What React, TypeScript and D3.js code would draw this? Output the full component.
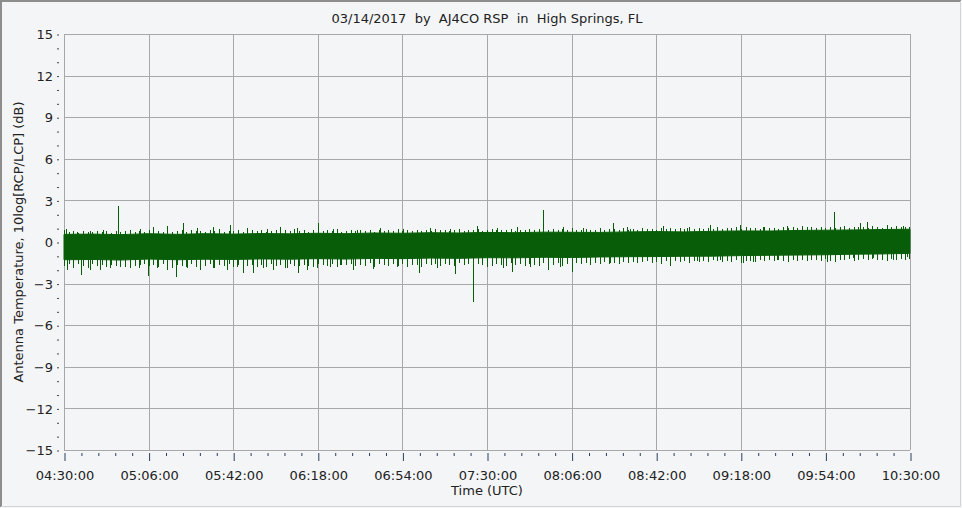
import React, { useEffect, useRef } from 'react';
import * as d3 from 'd3';

// x tick labels (UTC)
const timeTicks = [
  '04:30:00', '05:06:00', '05:42:00', '06:18:00', '06:54:00', '07:30:00',
  '08:06:00', '08:42:00', '09:18:00', '09:54:00', '10:30:00',
];
const dbTicks = [15, 12, 9, 6, 3, 0, -3, -6, -9, -12, -15];

// dense noise band, minutes after 04:30 UTC, dB
const bandMinutes = [
  0, 12, 24, 36, 48, 60, 72, 84, 96, 108, 120, 132, 144, 156, 168, 180,
  192, 204, 216, 228, 240, 252, 264, 276, 288, 300, 312, 324, 336, 348, 360,
];
const bandUpper = [
  0.55, 0.57, 0.53, 0.60, 0.55, 0.60, 0.57, 0.61, 0.59, 0.63, 0.60, 0.65, 0.63, 0.67, 0.65, 0.69,
  0.67, 0.71, 0.70, 0.69, 0.73, 0.75, 0.73, 0.77, 0.80, 0.79, 0.83, 0.85, 0.87, 0.90, 0.92,
];
const bandLower = [
  -1.28, -1.26, -1.30, -1.23, -1.28, -1.24, -1.26, -1.22, -1.24, -1.20, -1.23, -1.18, -1.20, -1.16, -1.18, -1.13,
  -1.14, -1.10, -1.12, -1.08, -1.06, -1.05, -1.03, -1.02, -0.98, -0.96, -0.94, -0.92, -0.88, -0.86, -0.82,
];

// fringe of the band, one reading every 2 minutes (0..360)
const fringeUpper = [
  0.85, 0.70, 0.78, 0.66, 0.80, 0.74, 0.69, 0.82, 0.71, 0.77,
  0.68, 0.80, 0.72, 0.76, 0.84, 0.70, 0.79, 0.73, 0.86, 0.75,
  0.81, 0.69, 0.90, 0.74, 0.78, 0.83, 0.71, 0.88, 0.76, 0.80,
  0.72, 0.85, 0.79, 0.93, 0.74, 0.82, 0.77, 0.87, 0.73, 0.81,
  0.84, 0.76, 0.89, 0.72, 0.80, 0.86, 0.75, 0.83, 0.78, 0.91,
  0.77, 0.85, 0.73, 0.88, 0.80, 0.76, 0.84, 0.79, 0.92, 0.74,
  0.82, 0.87, 0.76, 0.90, 0.79, 0.84, 0.75, 0.88, 0.81, 0.86,
  0.78, 0.93, 0.80, 0.85, 0.77, 0.89, 0.82, 0.87, 0.79, 0.95,
  0.83, 0.88, 0.80, 0.86, 0.92, 0.81, 0.89, 0.84, 0.97, 0.82,
  0.87, 0.91, 0.83, 0.89, 0.85, 0.94, 0.81, 0.90, 0.86, 0.92,
  0.84, 0.96, 0.88, 0.85, 0.93, 0.87, 0.91, 0.83, 0.98, 0.89,
  0.86, 0.94, 0.90, 0.88, 0.99, 0.85, 0.92, 0.96, 0.87, 1.01,
  0.90, 0.95, 0.88, 1.02, 0.93, 0.97, 0.89, 1.04, 0.92, 0.98,
  0.94, 1.00, 0.91, 1.06, 0.96, 0.99, 0.93, 1.03, 0.97, 1.08,
  0.95, 1.01, 0.98, 1.05, 0.94, 1.10, 0.99, 1.03, 0.96, 1.07,
  1.00, 1.04, 0.97, 1.09, 1.02, 1.06, 0.99, 1.12, 1.03, 1.05,
  1.01, 1.08, 1.04, 1.11, 1.00, 1.07, 1.13, 1.03, 1.09, 1.06,
  1.10, 1.04, 1.14, 1.07, 1.02, 1.12, 1.08, 1.15, 1.05, 1.11,
  1.09,
];
const fringeLower = [
  -1.75, -1.62, -1.80, -1.58, -1.70, -1.85, -1.60, -1.72, -1.66, -1.78,
  -1.63, -1.74, -1.59, -1.82, -1.68, -1.71, -1.87, -1.61, -1.76, -1.65,
  -1.79, -1.60, -1.73, -1.84, -1.64, -1.70, -1.77, -1.58, -1.81, -1.67,
  -1.72, -1.62, -1.86, -1.69, -1.75, -1.61, -1.78, -1.66, -1.83, -1.70,
  -1.64, -1.77, -1.68, -1.80, -1.59, -1.73, -1.66, -1.84, -1.62, -1.71,
  -1.76, -1.63, -1.70, -1.81, -1.60, -1.68, -1.74, -1.57, -1.79, -1.65,
  -1.69, -1.58, -1.76, -1.64, -1.72, -1.55, -1.80, -1.62, -1.67, -1.74,
  -1.60, -1.70, -1.56, -1.78, -1.63, -1.66, -1.82, -1.59, -1.68, -1.61,
  -1.73, -1.57, -1.65, -1.76, -1.54, -1.69, -1.62, -1.79, -1.58, -1.66,
  -1.55, -1.71, -1.60, -1.64, -1.75, -1.52, -1.67, -1.59, -1.70, -1.56,
  -1.63, -1.74, -1.53, -1.61, -1.68, -1.50, -1.72, -1.57, -1.64, -1.55,
  -1.60, -1.48, -1.66, -1.53, -1.58, -1.45, -1.62, -1.51, -1.56, -1.44,
  -1.50, -1.41, -1.55, -1.46, -1.38, -1.52, -1.43, -1.60, -1.40, -1.47,
  -1.36, -1.44, -1.39, -1.49, -1.34, -1.42, -1.37, -1.46, -1.33, -1.40,
  -1.45, -1.35, -1.41, -1.31, -1.50, -1.38, -1.34, -1.43, -1.30, -1.37,
  -1.32, -1.40, -1.28, -1.36, -1.44, -1.30, -1.35, -1.27, -1.39, -1.33,
  -1.29, -1.37, -1.25, -1.34, -1.41, -1.28, -1.32, -1.24, -1.36, -1.30,
  -1.26, -1.33, -1.22, -1.31, -1.27, -1.35, -1.23, -1.29, -1.20, -1.28,
  -1.24,
];

// single-sample excursions above the band [minute, dB]
const upSpikes: [number, number][] = [
  [0.9, 0.91], [5.4, 0.74], [11, 0.82], [16.6, 0.87], [23.1, 2.6], [28, 0.82], [32.3, 0.91],
  [38, 1.06], [43.7, 1.15], [50.5, 1.39], [56.5, 0.99], [63.4, 1.06], [70.6, 1.23], [77.7, 0.99],
  [86.2, 0.91], [91.9, 1.06], [99, 0.99], [108.2, 1.35], [114.5, 0.91], [116, 0.91], [124.5, 0.87],
  [134.5, 0.99], [144.4, 0.91], [155.7, 0.99], [164.3, 0.91], [175.6, 1.15], [184.1, 0.99],
  [192.6, 1.06], [203.7, 2.31], [212.5, 1.06], [221, 0.99], [233.5, 1.35], [239.4, 1.06],
  [240.9, 0.91], [255, 1.15], [265, 0.99], [274.9, 1.23], [287.7, 1.23], [297.6, 1.06],
  [307.5, 1.15], [316, 1.11], [327.8, 2.19], [338.7, 1.35], [341.8, 1.47], [350, 1.23], [357.2, 1.15],
];
// single-sample excursions below the band [minute, dB]
const downSpikes: [number, number][] = [
  [1.1, -2.02], [3.9, -1.9], [7.4, -2.36], [11, -2.02], [15.3, -2.02], [19.6, -1.9], [23.8, -1.83],
  [28, -1.9], [32.3, -1.66], [35.9, -2.43], [39.4, -1.9], [43.7, -2.02], [47.7, -2.55], [52.2, -1.9],
  [57.9, -2.02], [63.4, -1.9], [69.2, -2.02], [73.5, -1.83], [76.3, -2.21], [80.6, -2.26],
  [84.8, -1.9], [89.1, -2.02], [94.8, -1.9], [99.7, -2.26], [103.3, -2.02], [107.5, -1.9],
  [113.2, -1.78], [117.4, -1.66], [123.1, -2.02], [131.6, -1.97], [141.6, -1.83], [151.2, -2.26],
  [158.6, -1.9], [166.4, -2.31], [173.9, -4.3], [179.9, -1.78], [187, -1.9], [190.5, -2.14],
  [198.3, -1.83], [206.1, -2.02], [211, -1.83], [216, -2.14], [223.8, -1.66], [232.3, -1.49],
  [238, -1.42], [248, -1.3], [257.9, -1.73], [269.2, -1.35], [279.1, -1.3], [289, -1.49],
  [293.3, -1.42], [303.3, -1.3], [316, -1.35], [324.5, -1.42], [335.9, -1.18], [344.4, -1.18],
  [352.9, -1.3], [358.6, -1.06],
];

const W = 962;
const H = 508;
const margin = { left: 64, right: 52, top: 34, bottom: 58 };
const FONT = '"DejaVu Sans", Verdana, sans-serif';
const GREEN = '#085e08';
const GRID = '#a8a8a8';
const AXIS = '#2a3f5f';

const start = new Date(Date.UTC(2017, 2, 14, 4, 30));
const atMinute = (m: number) => new Date(start.getTime() + m * 60000);
const parseTick = (s: string) => {
  const [h, m] = s.split(':').map(Number);
  return new Date(Date.UTC(2017, 2, 14, h, m));
};

export default function App() {
  const svgRef = useRef<SVGSVGElement>(null);

  useEffect(() => {
    if (!svgRef.current) return;
    const root = d3.select(svgRef.current);
    root.selectAll('*').remove();

    const innerW = W - margin.left - margin.right;
    const innerH = H - margin.top - margin.bottom;
    const tickDates = timeTicks.map(parseTick);

    const x = d3.scaleUtc()
      .domain([tickDates[0], tickDates[tickDates.length - 1]])
      .range([margin.left, margin.left + innerW]);
    const y = d3.scaleLinear()
      .domain([-15, 15])
      .range([margin.top + innerH, margin.top]);

    // panel
    root.append('rect')
      .attr('x', 0).attr('y', 0).attr('width', W).attr('height', H)
      .attr('fill', '#f4f5f7');
    root.append('path')
      .attr('d', `M1,${H - 1} V1 H${W - 1}`)
      .attr('fill', 'none').attr('stroke', '#8d8d8d').attr('stroke-width', 2);
    root.append('path')
      .attr('d', `M${W - 1.5},1 V${H - 1.5} H1`)
      .attr('fill', 'none').attr('stroke', '#d4d4d4').attr('stroke-width', 1);

    // grid
    const grid = root.append('g').attr('stroke', GRID).attr('shape-rendering', 'crispEdges');
    tickDates.forEach(d => {
      grid.append('line')
        .attr('x1', Math.round(x(d)) + 0.5).attr('x2', Math.round(x(d)) + 0.5)
        .attr('y1', y(15)).attr('y2', y(-15));
    });
    dbTicks.forEach(v => {
      grid.append('line')
        .attr('x1', x(tickDates[0])).attr('x2', x(tickDates[tickDates.length - 1]))
        .attr('y1', Math.round(y(v)) + 0.5).attr('y2', Math.round(y(v)) + 0.5);
    });

    // noise band
    const bandData = bandMinutes.map((m, i) => ({ t: atMinute(m), hi: bandUpper[i], lo: bandLower[i] }));
    const area = d3.area<{ t: Date; hi: number; lo: number }>()
      .x(d => x(d.t))
      .y0(d => y(d.lo))
      .y1(d => y(d.hi));
    root.append('path')
      .datum(bandData)
      .attr('d', area)
      .attr('fill', GREEN)
      .attr('stroke', GREEN)
      .attr('stroke-width', 1);

    const fringe: [number, number][] = [
      ...fringeUpper.map((v, i) => [i * 2, v] as [number, number]),
      ...fringeLower.map((v, i) => [i * 2, v] as [number, number]),
      ...upSpikes,
      ...downSpikes,
    ];
    root.append('g')
      .attr('stroke', GREEN).attr('stroke-width', 1).attr('shape-rendering', 'crispEdges')
      .selectAll('line')
      .data(fringe)
      .join('line')
      .attr('x1', d => Math.min(909.5, Math.round(x(atMinute(d[0]))) + 0.5))
      .attr('x2', d => Math.min(909.5, Math.round(x(atMinute(d[0]))) + 0.5))
      .attr('y1', y(-0.2))
      .attr('y2', d => y(d[1]));

    // x axis
    const minorDates: Date[] = [];
    for (let i = 0; i < tickDates.length - 1; i++) {
      const a = tickDates[i].getTime();
      const step = (tickDates[i + 1].getTime() - a) / 5;
      for (let k = 1; k < 5; k++) minorDates.push(new Date(a + k * step));
    }
    const xMinor = root.append('g')
      .attr('transform', `translate(0.5,${y(-15) + 3})`)
      .call(d3.axisBottom(x).tickValues(minorDates).tickSize(3).tickFormat(() => ''));
    const xMajor = root.append('g')
      .attr('transform', `translate(0.5,${y(-15) + 3})`)
      .call(d3.axisBottom(x).tickValues(tickDates).tickSize(8).tickPadding(10)
        .tickFormat((d, i) => timeTicks[i]));
    [xMinor, xMajor].forEach(g => {
      g.select('.domain').remove();
      g.selectAll('line').attr('stroke', AXIS);
      g.selectAll('text').attr('fill', '#222').style('font-family', FONT).style('font-size', '13px');
    });

    // y axis
    const minorDb = d3.range(-15, 15.01, 1).filter(v => v % 3 !== 0);
    const yMinor = root.append('g')
      .attr('transform', `translate(${margin.left - 5},0.5)`)
      .call(d3.axisLeft(y).tickValues(minorDb).tickSize(2).tickFormat(() => ''));
    const yMajor = root.append('g')
      .attr('transform', `translate(${margin.left - 5},0.5)`)
      .call(d3.axisLeft(y).tickValues(dbTicks).tickSize(2).tickPadding(4)
        .tickFormat(d => `${d}`));
    [yMinor, yMajor].forEach(g => {
      g.select('.domain').remove();
      g.selectAll('line').attr('stroke', '#444');
      g.selectAll('text').attr('fill', '#222').style('font-family', FONT).style('font-size', '13px');
    });
    yMajor.selectAll('text').text(d => (d as number) < 0 ? `\u2212${-(d as number)}` : `${d}`);

    // titles
    root.append('text')
      .attr('x', margin.left + innerW / 2).attr('y', 23)
      .attr('text-anchor', 'middle')
      .style('font-family', FONT).style('font-size', '13px').attr('fill', '#222')
      .attr('xml:space', 'preserve')
      .text('03/14/2017  by  AJ4CO RSP  in  High Springs, FL');
    root.append('text')
      .attr('x', margin.left + innerW / 2).attr('y', 495)
      .attr('text-anchor', 'middle')
      .style('font-family', FONT).style('font-size', '13px').attr('fill', '#222')
      .text('Time (UTC)');
    root.append('text')
      .attr('transform', `translate(23,${margin.top + innerH / 2}) rotate(-90)`)
      .attr('text-anchor', 'middle')
      .style('font-family', FONT).style('font-size', '13px').attr('fill', '#222')
      .text('Antenna Temperature, 10log[RCP/LCP] (dB)');
  }, []);

  return (
    <svg ref={svgRef} width={W} height={H}
      style={{ position: 'absolute', left: 0, top: 0, display: 'block' }} />
  );
}
